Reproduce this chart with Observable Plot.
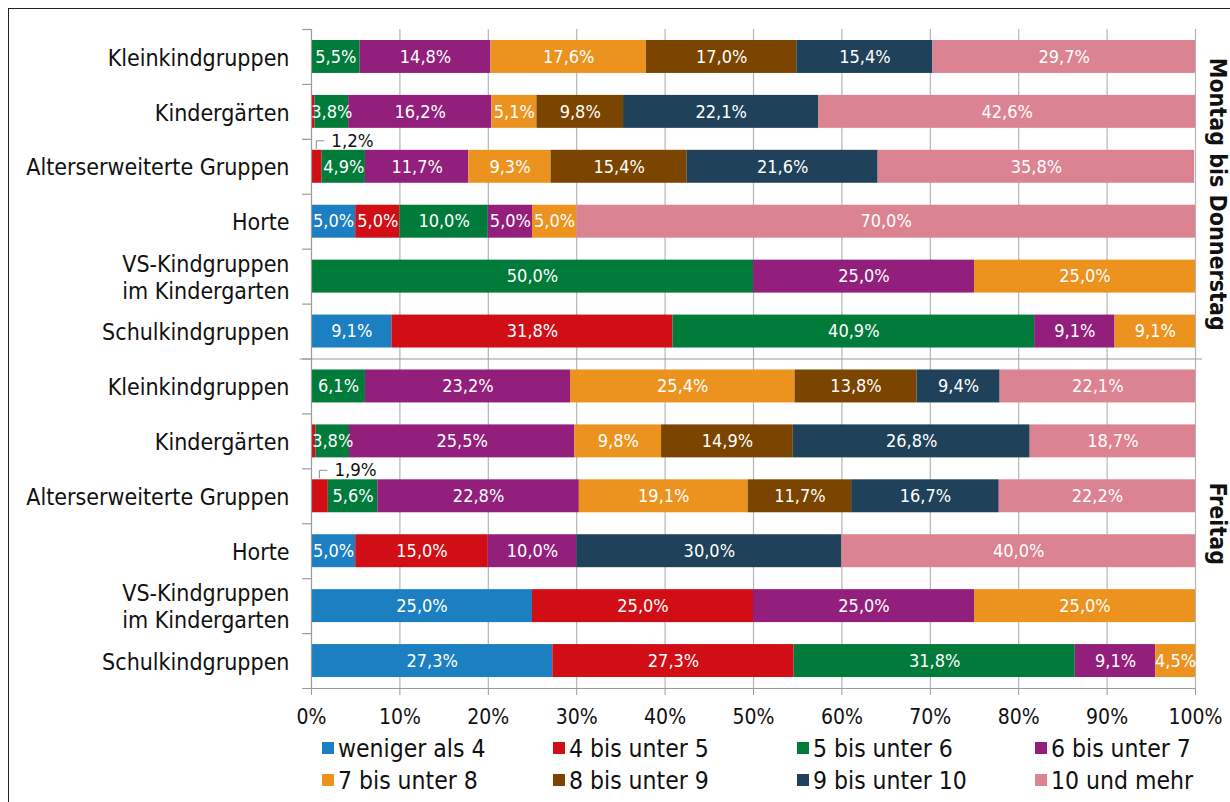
<!DOCTYPE html>
<html><head><meta charset="utf-8">
<script src="https://cdn.jsdelivr.net/npm/d3@7"></script>
<script src="https://cdn.jsdelivr.net/npm/@observablehq/plot@0.6"></script>
<style>
html,body{margin:0;padding:0;background:#fff;}
body{width:1230px;height:802px;overflow:hidden;position:relative;font-family:"DejaVu Sans Condensed","DejaVu Sans",sans-serif;}
#frame{position:absolute;left:8px;top:8px;width:1300px;height:900px;border-left:1.5px solid #222;border-top:1.5px solid #222;}
#chart{position:absolute;left:0;top:0;}
#legend{position:absolute;left:322px;top:732px;display:grid;grid-template-columns:231px 244px 238px 190px;grid-auto-rows:32px;font-size:24.5px;color:#111;}
.item{display:flex;align-items:center;white-space:nowrap;}
.sw{width:12px;height:12px;margin-right:4px;display:inline-block;flex:none;}
</style></head><body>
<div id="frame"></div>
<div id="chart"></div>
<div id="legend"></div>
<script>
// ---- data ----
const series = ["weniger als 4","4 bis unter 5","5 bis unter 6","6 bis unter 7","7 bis unter 8","8 bis unter 9","9 bis unter 10","10 und mehr"];
const colors = ["#1b7fc1","#d10d15","#017b3a","#931f7d","#ec931f","#7b4500","#1f4159","#dc8392"];
const categories = ["Kleinkindgruppen","Kindergärten","Alterserweiterte Gruppen","Horte","VS-Kindgruppen\nim Kindergarten","Schulkindgruppen"];
const periods = ["Montag bis Donnerstag","Freitag"];
const xTicks = [0,10,20,30,40,50,60,70,80,90,100];

// shares in % per category, in series order
const montagBisDonnerstag = [
  [0, 0, 5.5, 14.8, 17.6, 17.0, 15.4, 29.7],
  [0, 0.4, 3.8, 16.2, 5.1, 9.8, 22.1, 42.6],
  [0, 1.2, 4.9, 11.7, 9.3, 15.4, 21.6, 35.8],
  [5.0, 5.0, 10.0, 5.0, 5.0, 0, 0, 70.0],
  [0, 0, 50.0, 25.0, 25.0, 0, 0, 0],
  [9.1, 31.8, 40.9, 9.1, 9.1, 0, 0, 0]
];
const freitag = [
  [0, 0, 6.1, 23.2, 25.4, 13.8, 9.4, 22.1],
  [0, 0.5, 3.8, 25.5, 9.8, 14.9, 26.8, 18.7],
  [0, 1.9, 5.6, 22.8, 19.1, 11.7, 16.7, 22.2],
  [5.0, 15.0, 0, 10.0, 0, 0, 30.0, 40.0],
  [25.0, 25.0, 0, 25.0, 25.0, 0, 0, 0],
  [27.3, 27.3, 31.8, 9.1, 4.5, 0, 0, 0]
];

// ---- build table ----
const tables = [montagBisDonnerstag, freitag];
const keys = [];
const data = [];
const small = []; // segments with outside labels
periods.forEach((p, pi) => {
  categories.forEach((c, ci) => {
    const key = p + "|" + c;
    keys.push(key);
    let cum = 0;
    tables[pi][ci].forEach((v, si) => {
      if (v > 0) {
        data.push({key, series: series[si], value: v});
        if (v >= 1 && v < 2) small.push({key, mid: cum + v / 2});
      }
      cum += v;
    });
  });
});
const fmt = v => d3.format(".1f")(v).replace(".", ",") + "%";

const W = 1230, H = 735, MT = 29, MB = 47, ML = 311, MR = 35;
const step = (H - MT - MB) / keys.length;
const axisGray = "#9a9a9a";

const chart = Plot.plot({
  width: W, height: H,
  marginTop: MT, marginBottom: MB, marginLeft: ML, marginRight: MR,
  style: {fontFamily: "'DejaVu Sans Condensed','DejaVu Sans',sans-serif", background: "transparent", overflow: "visible", color: "#111"},
  x: {domain: [0, 100]},
  y: {domain: keys, axis: null, paddingInner: 0.4, paddingOuter: 0.2, round: false},
  color: {domain: series, range: colors},
  marks: [
    Plot.ruleX(xTicks.slice(1), {stroke: "#b5b5b5", strokeWidth: 1.2}),
    Plot.barX(data, {x: "value", y: "key", fill: "series"}),
    Plot.text(data, Plot.stackX({
      x: "value", y: "key",
      text: d => d.value >= 2 ? fmt(d.value) : null,
      fill: "white", fontSize: 18
    })),
    Plot.text(data, Plot.stackX({
      x: "value", y: "key",
      text: d => (d.value >= 1 && d.value < 2) ? fmt(d.value) : null,
      fill: "#111", fontSize: 18.5,
      textAnchor: "start", dx: 14.5, dy: -26
    })),
    (index, scales) => {
      const {x, y} = scales;
      const g = d3.create("svg:g").attr("fill", "none").attr("stroke", "#8c8c8c").attr("stroke-width", 1);
      for (const d of small) {
        const cx = x(d.mid), top = y(d.key);
        g.append("path").attr("d", `M${cx},${top - 1}V${top - 9}H${cx + 8}`);
      }
      return g.node();
    },
    // axis lines and category boundary ticks
    Plot.ruleX([0], {stroke: axisGray, strokeWidth: 1.2}),
    Plot.ruleY(keys, {y: d => d, x1: -1, x2: 0, dy: -step / 2, stroke: axisGray, strokeWidth: 1.2}),
    Plot.ruleY([keys[keys.length - 1]], {y: d => d, x1: -1, x2: 100, dy: step / 2, stroke: axisGray, strokeWidth: 1.2}),
    Plot.ruleY([keys[categories.length - 1]], {y: d => d, x1: -1.3, x2: 100.8, dy: step / 2, stroke: axisGray, strokeWidth: 1.2}),
    Plot.axisX({ticks: xTicks, tickFormat: d => d + "%", tickSize: 7, tickPadding: 14, fontSize: 21, stroke: axisGray, color: "#111", label: null}),
    // category labels
    Plot.text(keys, {x: 0, y: d => d, text: d => d.split("|")[1], textAnchor: "end", dx: -22, fontSize: 23, lineHeight: 1.17, fill: "#111"}),
    // period labels
    Plot.text([{label: periods[0], key: keys[2]}, {label: periods[1], key: keys[8]}], {
      x: 100, y: "key", text: "label", dx: 22, dy: step / 2, rotate: 90,
      fontSize: 23, fontWeight: "bold", fill: "#111"
    })
  ]
});
document.getElementById("chart").appendChild(chart);

// legend
const legend = document.getElementById("legend");
series.forEach((s, i) => {
  const item = document.createElement("div");
  item.className = "item";
  const sw = document.createElement("span");
  sw.className = "sw";
  sw.style.background = colors[i];
  item.appendChild(sw);
  item.appendChild(document.createTextNode(s));
  legend.appendChild(item);
});
</script>
</body></html>
